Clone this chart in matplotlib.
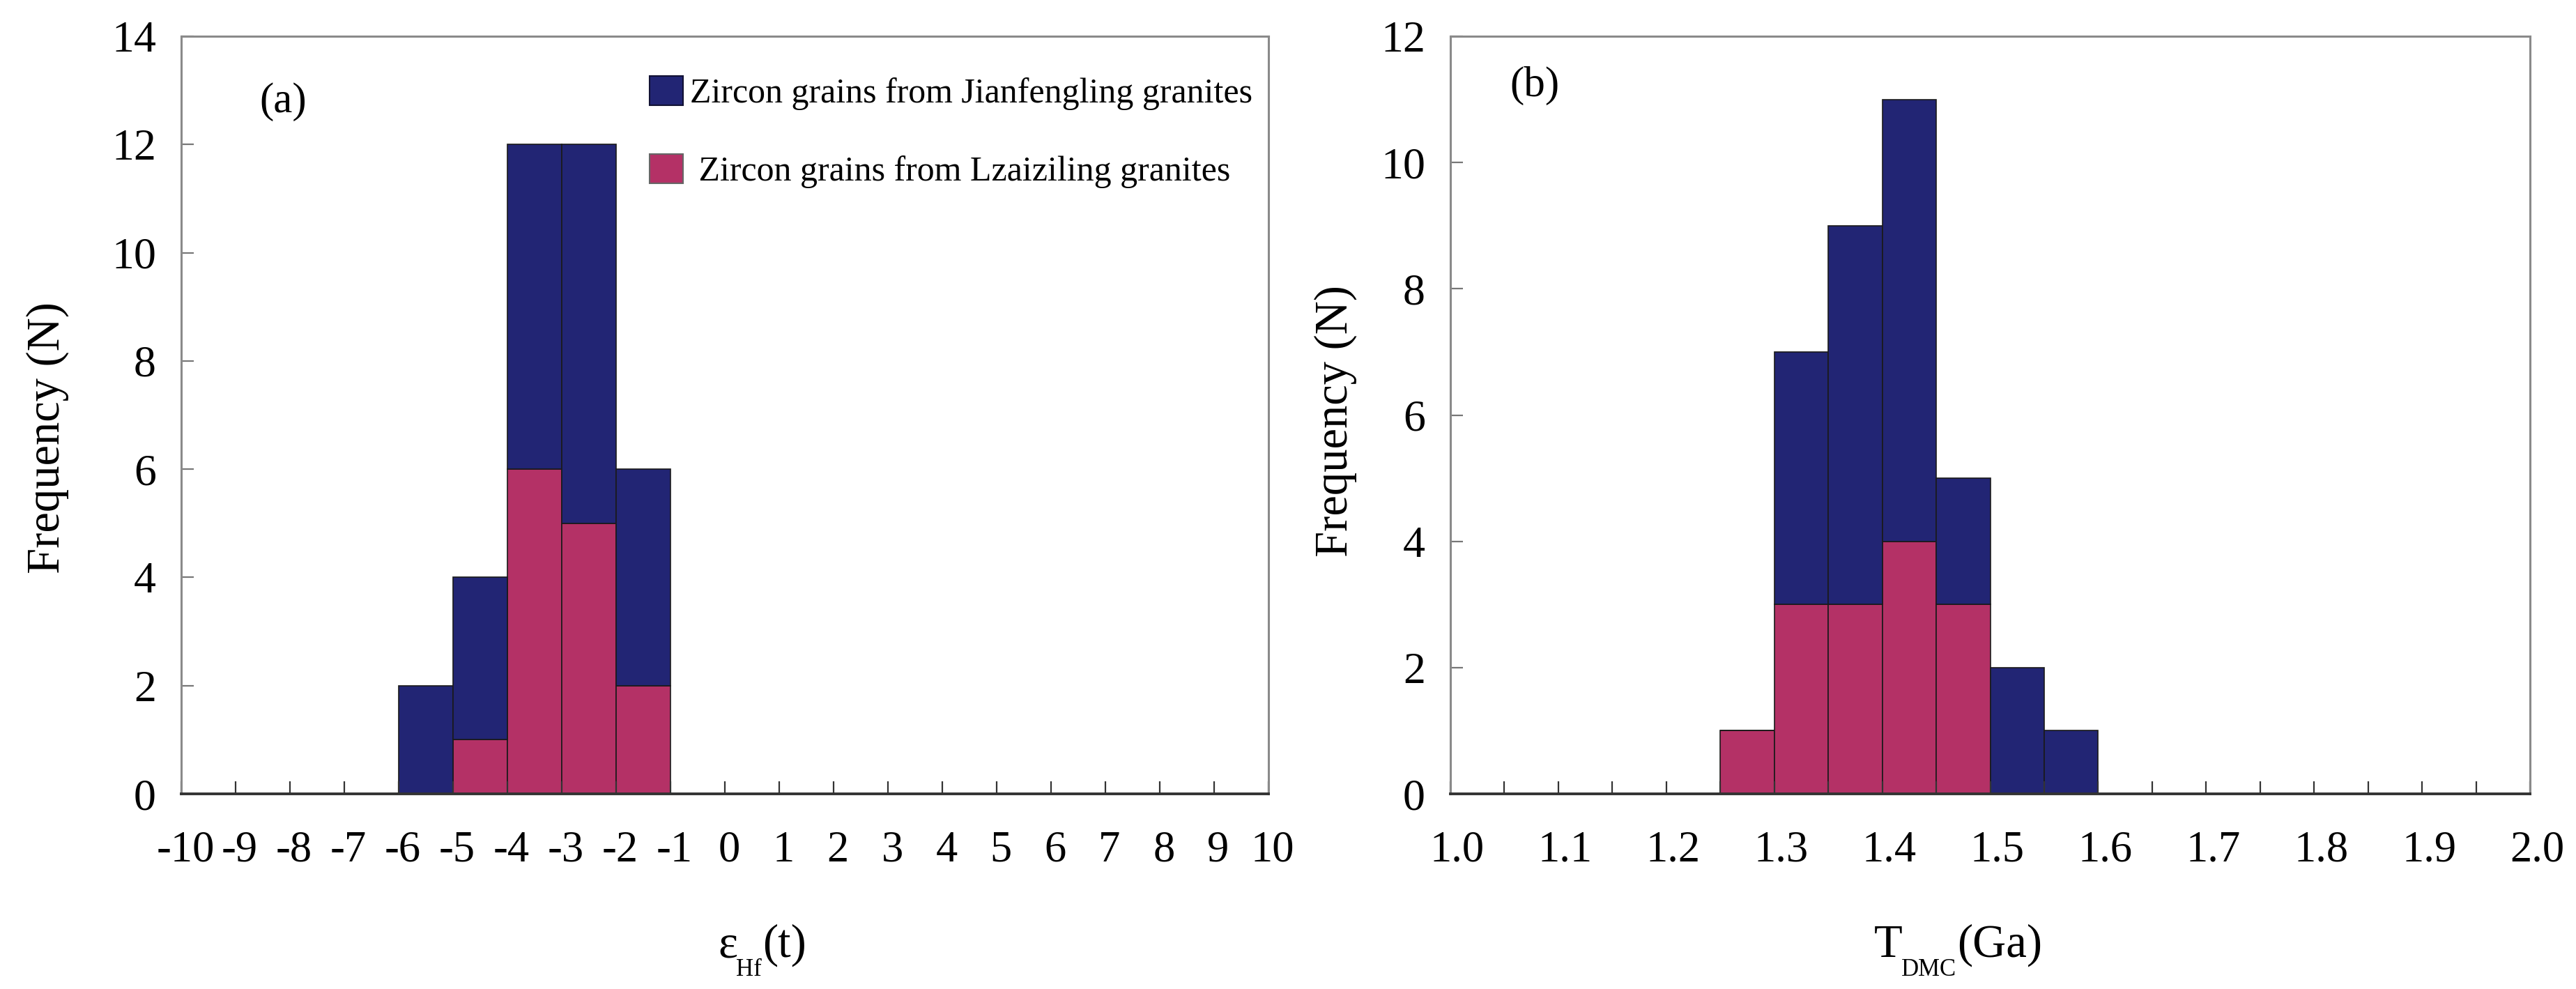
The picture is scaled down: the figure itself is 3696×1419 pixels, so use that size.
import numpy as np
import matplotlib
matplotlib.use('Agg')
import matplotlib.pyplot as plt
from matplotlib.patches import Patch
from matplotlib.ticker import MultipleLocator, FixedLocator, FixedFormatter
import matplotlib.transforms as mtransforms

plt.rcParams['font.family'] = ['Liberation Serif', 'DejaVu Serif']

# (a) eHf(t) histogram, bins of width 1, left edges
ehf_left = [-6, -5, -4, -3, -2]
ehf_lz = [0, 1, 6, 5, 2]          # Lzaiziling
ehf_jf = [2, 3, 6, 7, 4]          # Jianfengling (stacked on top)

# (b) TDMC histogram, bins of width 0.05, left edges
tdm_left = [1.25, 1.30, 1.35, 1.40, 1.45, 1.50, 1.55]
tdm_lz = [1, 3, 3, 4, 3, 0, 0]
tdm_jf = [0, 4, 6, 7, 2, 2, 1]

blue = '#222574'
pink = '#b43166'
label_jf = 'Zircon grains from Jianfengling granites'
label_lz = ' Zircon grains from Lzaiziling granites'

W, H = 3696, 1419
fig = plt.figure(figsize=(W / 100, H / 100), dpi=100)

ax1 = fig.add_axes([260 / W, 1 - 1139 / H, 1560 / W, 1087 / H])
ax2 = fig.add_axes([2081 / W, 1 - 1139 / H, 1549 / W, 1087 / H])


def style(ax, dx_px):
    for s in ['top', 'left', 'right']:
        ax.spines[s].set_color('#8a8a8a')
        ax.spines[s].set_linewidth(2.2)
    ax.spines['bottom'].set_color('#333333')
    ax.spines['bottom'].set_linewidth(2.8)
    ax.tick_params(axis='both', which='both', direction='in', length=13, width=1.6)
    ax.tick_params(axis='y', colors='#777777', labelcolor='black', labelsize=46, pad=26)
    ax.tick_params(axis='x', which='both', colors='#333333', labelcolor='black',
                   labelsize=45, pad=38)
    off = mtransforms.ScaledTranslation(dx_px / 100, 0, fig.dpi_scale_trans)
    for lab in ax.get_xticklabels():
        lab.set_transform(lab.get_transform() + off)


# panel (a)
ax1.bar(ehf_left, ehf_lz, width=1, align='edge', color=pink, edgecolor='#1a1a1a', linewidth=1.2)
ax1.bar(ehf_left, ehf_jf, width=1, align='edge', bottom=ehf_lz, color=blue,
        edgecolor='#1a1a1a', linewidth=1.2)
ax1.set_xlim(-10, 10)
ax1.set_ylim(0, 14)
ax1.yaxis.set_major_locator(MultipleLocator(2))
xt = list(range(-10, 11))
ax1.xaxis.set_major_locator(FixedLocator(xt))
ax1.xaxis.set_major_formatter(FixedFormatter([str(v) for v in xt]))
style(ax1, 6)
ax1.text(0.094, 0.913, '(a)', transform=ax1.transAxes, fontsize=44, ha='center', va='center')

leg = ax1.legend(handles=[Patch(facecolor=blue, edgecolor='#111133', linewidth=1.5, label=label_jf),
                          Patch(facecolor=pink, edgecolor='#666666', linewidth=1.5, label=label_lz)],
                 loc='upper left', bbox_to_anchor=(0.4306, 0.948), frameon=False,
                 fontsize=36, handlelength=0.96, handleheight=0.94, handletextpad=0.2,
                 labelspacing=1.25, borderpad=0, borderaxespad=0)

# panel (b)
ax2.bar(tdm_left, tdm_lz, width=0.05, align='edge', color=pink, edgecolor='#1a1a1a', linewidth=1.2)
ax2.bar(tdm_left, tdm_jf, width=0.05, align='edge', bottom=tdm_lz, color=blue,
        edgecolor='#1a1a1a', linewidth=1.2)
ax2.set_xlim(1.0, 2.0)
ax2.set_ylim(0, 12)
ax2.yaxis.set_major_locator(MultipleLocator(2))
xt2 = [round(1.0 + 0.1 * i, 1) for i in range(11)]
ax2.xaxis.set_major_locator(FixedLocator(xt2))
ax2.xaxis.set_major_formatter(FixedFormatter(['%.1f' % v for v in xt2]))
ax2.xaxis.set_minor_locator(MultipleLocator(0.05))
style(ax2, 10)
ax2.text(0.078, 0.935, '(b)', transform=ax2.transAxes, fontsize=44, ha='center', va='center')

# y labels
fig.text(68 / W, 1 - 628 / H, 'Frequency (N)', rotation=90, fontsize=48, ha='center', va='center')
fig.text(1916 / W, 1 - 604 / H, 'Frequency (N)', rotation=90, fontsize=48, ha='center', va='center')


# x labels built from pieces (main, subscript, main)
def sub_label(x_px, y_px, main, sub, tail):
    t1 = fig.text(x_px / W, 1 - y_px / H, main, fontsize=48, ha='left', va='baseline')
    t2 = fig.text(0, 0, sub, fontsize=25, ha='left', va='top')
    fig.canvas.draw()
    r = fig.canvas.get_renderer()
    b1 = t1.get_window_extent(r)
    t2.set_position(((b1.x1 - 2) / W, (H - y_px - 2) / H))
    fig.canvas.draw()
    b2 = t2.get_window_extent(r)
    fig.text((b2.x1 + 1) / W, 1 - y_px / H, tail, fontsize=48, ha='left', va='baseline')


sub_label(1030, 1373, 'ε', 'Hf', '(t)')
sub_label(2689, 1373, 'T', 'DMC', '(Ga)')

fig.savefig('out.png', dpi=100)
